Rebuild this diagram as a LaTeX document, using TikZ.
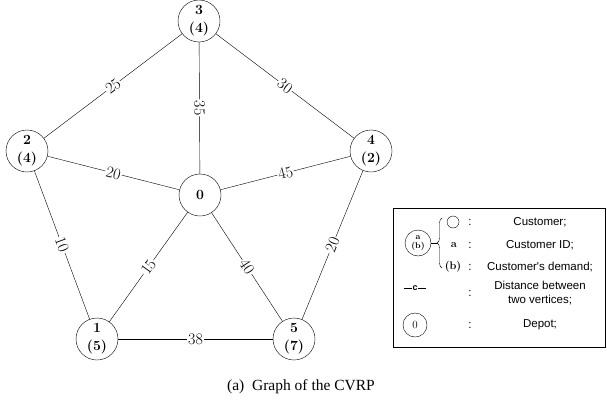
\documentclass[tikz,border=0pt]{standalone}
\usepackage{fontspec}
\newfontfamily\legendfont{Liberation Sans}
\newfontfamily\capfont{Liberation Serif}
\usetikzlibrary{positioning, decorations.pathreplacing}

\begin{document}
\begin{tikzpicture}[x=1pt, y=-1pt,
	vertex/.style={draw, circle, minimum size=42pt, inner sep=0pt, align=center, font=\fontsize{14}{18}\selectfont\bfseries},
	dist/.style={midway, sloped, fill=white, inner sep=1pt, font=\fontsize{16}{16}\selectfont},
	legtext/.style={font=\legendfont\fontsize{11.5}{13.5}\selectfont, align=center},
	colon/.style={font=\legendfont\fontsize{11.5}{12}\selectfont}]

	\useasboundingbox (0,0) rectangle (607,407);

	% Define nodes
	\node [vertex] (depot) at (200,195) {0};
	\node [vertex] (c1) at (97,339) {1\\(5)};
	\node [vertex] (c2) at (27,151) {2\\(4)};
	\node [vertex] (c3) at (199,21) {3\\(4)};
	\node [vertex] (c4) at (371,151) {4\\(2)};
	\node [vertex] (c5) at (294,339) {5\\(7)};

	% Edges with distances
	\draw (c2) -- (c3) node[dist] {25};
	\draw (c3) -- (c4) node[dist] {30};
	\draw (depot) -- (c3) node[dist] {35};
	\draw (c2) -- (depot) node[dist] {20};
	\draw (depot) -- (c4) node[dist] {45};
	\draw (c2) -- (c1) node[dist] {10};
	\draw (depot) -- (c1) node[dist] {15};
	\draw (depot) -- (c5) node[dist] {40};
	\draw (c4) -- (c5) node[dist] {20};
	\draw (c1) -- (c5) node[dist] {38};

	% Legend
	\node [draw, minimum width=212pt, minimum height=139pt] (legend) at (499,277.5) {};
	\node [draw, circle, minimum size=26pt, inner sep=0pt, align=center, font=\fontsize{8.5}{9.5}\selectfont\bfseries] (key) at (418,243) {a\\(b)};
	\coordinate (bracetip) at (437,243);
	\draw (key.east) -- (bracetip);
	\draw [decorate, decoration={brace, amplitude=5pt}] (442,268) -- (442,218);
	\node [draw, circle, minimum size=12pt, inner sep=0pt] (keycust) at (453,222) {};
	\node [font=\fontsize{11}{11}\selectfont\bfseries] (keyid) at (454,245) {a};
	\node [font=\fontsize{11}{11}\selectfont\bfseries] (keydem) at (453,267) {(b)};
	\coordinate (keyl) at (404,288);
	\coordinate (keyr) at (426,288);
	\draw (keyl) -- (keyr) node[midway, fill=white, inner sep=0.5pt, font=\legendfont\fontsize{9}{9}\selectfont\bfseries] (keyc) {c};
	\node [draw, circle, minimum size=24pt, inner sep=0pt, font=\fontsize{11}{11}\selectfont] (keydepot) at (415,325) {0};

	\node [colon] (col1) at (470,222) {:};
	\node [colon] (col2) at (470,245) {:};
	\node [colon] (col3) at (470,267) {:};
	\node [colon] (col4) at (470,293) {:};
	\node [colon] (col5) at (470,325) {:};

	\node [legtext] (txt1) at (540,222) {Customer;};
	\node [legtext] (txt2) at (540,245) {Customer ID;};
	\node [legtext] (txt3) at (540,267) {Customer's demand;};
	\node [legtext] (txt4) at (540,293) {Distance between\\two vertices;};
	\node [legtext] (txt5) at (540,325) {Depot;};

	% Caption
	\node [font=\capfont\fontsize{15.5}{16}\selectfont] (caption) at (301,387) {(a)\hspace{0.5em}Graph of the CVRP};
\end{tikzpicture}
\end{document}
